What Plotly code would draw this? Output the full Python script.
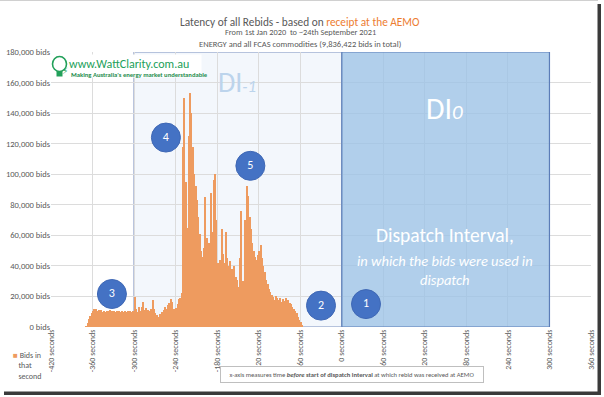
import plotly.graph_objects as go

# ---- data (2-second bins, bin centres in seconds before/after start of DI) ----
bin_start = -369
bin_width = 2
bids = [
    500, 2500, 5000, 7500, 9000, 10200, 11500, 11800, 10800, 11200,          # -369..-351
    10400, 10900, 10100, 10600, 9800, 10500, 10200, 10900, 9900, 10300,      # -349..-331
    10700, 9800, 10400, 10100, 10800, 9700, 10300, 10000, 10600, 9600,       # -329..-311
    10200, 9900, 10500, 9800, 10200, 19800, 11500, 9500, 12800, 10200,       # -309..-291
    13000, 16500, 11000, 12500, 10200, 11000, 10500, 12000, 17500, 12000,    # -289..-271
    9000, 8000, 6800, 8500, 7500, 10000, 11000, 13000, 12000, 14500,         # -269..-251
    16000, 18400, 16500, 12000, 11800, 12500, 15000, 18500, 19000, 22000,    # -249..-231
    118000, 150000, 95000, 65000, 125000, 153000, 140000, 118000, 100000, 92000,  # -229..-211
    83000, 72000, 61000, 50000, 46000, 52000, 85000, 58000, 47000, 55000,    # -209..-191
    88000, 62000, 96000, 100000, 70000, 42000, 38000, 44000, 64000, 48000,   # -189..-171
    42000, 62000, 45000, 40000, 43000, 38000, 36000, 40000, 33000, 31000,    # -169..-151
    26000, 45000, 76000, 30000, 27000, 70000, 92000, 86000, 72000, 64000,    # -149..-131
    55000, 50000, 46000, 44000, 47000, 50000, 53500, 45000, 40000, 36000,    # -129..-111
    31000, 28000, 25000, 23000, 21000, 19500, 18000, 20000, 19000, 17500,    # -109..-91
    19000, 16500, 18500, 17000, 19000, 17000, 18000, 16000, 15000, 13000,    # -89..-71
    12000, 10500, 9000, 6500, 4500, 3000, 1200,                              # -69..-57
]
seconds = [bin_start + bin_width * i for i in range(len(bids))]

x_ticks = [-420, -360, -300, -240, -180, -120, -60, 0, 60, 120, 180, 240, 300, 360]
x_tick_labels = [f"{v} seconds" for v in x_ticks]
y_ticks = [0, 20000, 40000, 60000, 80000, 100000, 120000, 140000, 160000, 180000]
y_tick_labels = [f"{v:,} bids" for v in y_ticks]

marker_labels = ["1", "2", "3", "4", "5"]
marker_x = [35, -30, -332, -254, -132]
marker_y = [15000, 14000, 21600, 124000, 105500]

di_prev = (-300, 0)
di_zero = (0, 300)

FONT = "Carlito, Calibri, Lato, sans-serif"
GRAY = "#595959"
ORANGE = "#EE9B5F"

fig = go.Figure()

fig.add_trace(go.Bar(
    x=seconds, y=bids, width=bin_width,
    marker=dict(color=ORANGE, line=dict(width=0)),
    name="Bids in that second", showlegend=False,
))

fig.add_trace(go.Scatter(
    x=marker_x, y=marker_y, mode="markers+text", text=marker_labels,
    textposition="middle center",
    textfont=dict(color="white", size=12, family=FONT),
    marker=dict(size=29, color="#4472C4", line=dict(color="#3F68B5", width=1)),
    showlegend=False, cliponaxis=False, hoverinfo="skip",
))

def pax(px):
    return (px - 51) / 540

def pay(py):
    return (327 - py) / 275

shapes = [
    # DI-1 box
    dict(type="rect", xref="x", yref="y", x0=di_prev[0], x1=di_prev[1], y0=0, y1=180000,
         fillcolor="#F3F7FC", line=dict(color="#7A8FBE", width=1.2), layer="below"),
    # DI0 box
    dict(type="rect", xref="x", yref="y", x0=di_zero[0], x1=di_zero[1], y0=0, y1=180000,
         fillcolor="rgba(157,195,230,0.80)", line=dict(color="#5B7DB8", width=1.2), layer="between"),
    # logo white box
    dict(type="rect", xref="paper", yref="paper", x0=pax(50), x1=pax(201.5), y0=pay(77.5), y1=pay(54.5),
         fillcolor="white", line=dict(width=0), layer="above"),
    # bulb
    dict(type="circle", xref="paper", yref="paper",
         x0=pax(52.5), x1=pax(66.5), y0=pay(71.5), y1=pay(56.5),
         fillcolor="white", line=dict(color="#22A05A", width=1.6), layer="above"),
    dict(type="rect", xref="paper", yref="paper",
         x0=pax(56.5), x1=pax(62.5), y0=pay(76.5), y1=pay(71),
         fillcolor="#22A05A", line=dict(width=0), layer="above"),
    # outer frame shadow (right and bottom)
    dict(type="rect", xref="paper", yref="paper",
         x0=pax(597.5), x1=pax(601), y0=pay(395), y1=pay(4),
         fillcolor="#3A3A3A", line=dict(width=0), layer="above"),
    dict(type="rect", xref="paper", yref="paper",
         x0=pax(4), x1=pax(601), y0=pay(395), y1=pay(391.5),
         fillcolor="#3A3A3A", line=dict(width=0), layer="above"),
    dict(type="line", xref="paper", yref="paper",
         x0=pax(0), x1=pax(598), y0=pay(0.5), y1=pay(0.5),
         line=dict(color="#D0D0D0", width=1), layer="above"),
]

annotations = [
    dict(xref="paper", yref="paper", x=pax(300), y=pay(13), showarrow=False,
         text=f"<span style='color:{GRAY}'>Latency of all Rebids - based on </span>"
              f"<span style='color:#ED7D31'>receipt at the AEMO</span>",
         font=dict(size=11.3, family=FONT)),
    dict(xref="paper", yref="paper", x=pax(300), y=pay(25), showarrow=False,
         text="From 1st Jan 2020  to ~24th September 2021",
         font=dict(size=8.3, family=FONT, color=GRAY)),
    dict(xref="paper", yref="paper", x=pax(300), y=pay(37), showarrow=False,
         text="ENERGY and all FCAS commodities (9,836,422 bids in total)",
         font=dict(size=8.5, family=FONT, color=GRAY)),
    # logo text
    dict(xref="paper", yref="paper", x=pax(67), y=pay(64), xanchor="left", yanchor="middle",
         showarrow=False, text="www.WattClarity.com.au",
         font=dict(size=12, family=FONT, color="#22A05A")),
    dict(xref="paper", yref="paper", x=pax(68.5), y=pay(74.5), xanchor="left", yanchor="middle",
         showarrow=False, text="<b>Making Australia's energy market understandable</b>",
         font=dict(size=6.6, family=FONT, color="#1E8C4E")),
    dict(xref="paper", yref="paper", x=pax(59.5), y=pay(63.5), showarrow=False,
         text="⚡", font=dict(size=9, family="DejaVu Sans", color="#22A05A")),
    # DI labels
    dict(xref="x", yref="y", x=-152, y=160000, showarrow=False,
         text="DI<i><span style='font-size:17px'>-1</span></i>",
         font=dict(size=28, family=FONT, color="#BCD4EC")),
    dict(xref="x", yref="y", x=149, y=142700, showarrow=False,
         text="DI<i><span style='font-size:21px'>0</span></i>",
         font=dict(size=30, family=FONT, color="white")),
    dict(xref="x", yref="y", x=149, y=60200, showarrow=False,
         text="Dispatch Interval,", font=dict(size=19.5, family=FONT, color="white")),
    dict(xref="x", yref="y", x=149, y=43400, showarrow=False,
         text="<i>in which the bids were used in</i>", font=dict(size=14.5, family=FONT, color="white")),
    dict(xref="x", yref="y", x=149, y=30800, showarrow=False,
         text="<i>dispatch</i>", font=dict(size=14.5, family=FONT, color="white")),
    # legend
    dict(xref="paper", yref="paper", x=pax(11), y=pay(348), xanchor="left", yanchor="top",
         align="left", showarrow=False,
         text=f"<span style='color:{ORANGE}'>■</span> Bids in<br>   that<br>   second",
         font=dict(size=8, family=FONT, color=GRAY)),
    # footnote
    dict(xref="paper", yref="paper", x=pax(351.5), y=pay(383), showarrow=False,
         text="x-axis measures time <b><i>before</i></b> <b>start of dispatch interval</b> at which rebid was received at AEMO",
         font=dict(size=6.6, family=FONT, color=GRAY),
         bordercolor="#BFBFBF", borderwidth=1, borderpad=2, bgcolor="white",
         width=258, height=11),
]

fig.update_layout(
    width=604, height=397,
    margin=dict(l=51, r=13, t=52, b=70, autoexpand=False),
    paper_bgcolor="white", plot_bgcolor="white",
    bargap=0, showlegend=False,
    shapes=shapes, annotations=annotations,
    font=dict(family=FONT, color=GRAY),
    xaxis=dict(range=[-420, 360], tickvals=x_ticks, ticktext=x_tick_labels, tickangle=-90,
               automargin=False,
               showgrid=True, gridcolor="#DCDCDC", gridwidth=1, zeroline=False,
               showline=False, ticks="", tickfont=dict(size=8, family=FONT, color=GRAY)),
    yaxis=dict(range=[0, 180000], tickvals=y_ticks, ticktext=y_tick_labels,
               automargin=False,
               showgrid=True, gridcolor="#DCDCDC", gridwidth=1, zeroline=False,
               showline=False, ticks="", tickfont=dict(size=8.5, family=FONT, color=GRAY)),
)

fig.write_html("out.html",
               config={"displayModeBar": False},
               post_script="document.body.style.margin='0px';document.body.style.overflow='hidden';")
